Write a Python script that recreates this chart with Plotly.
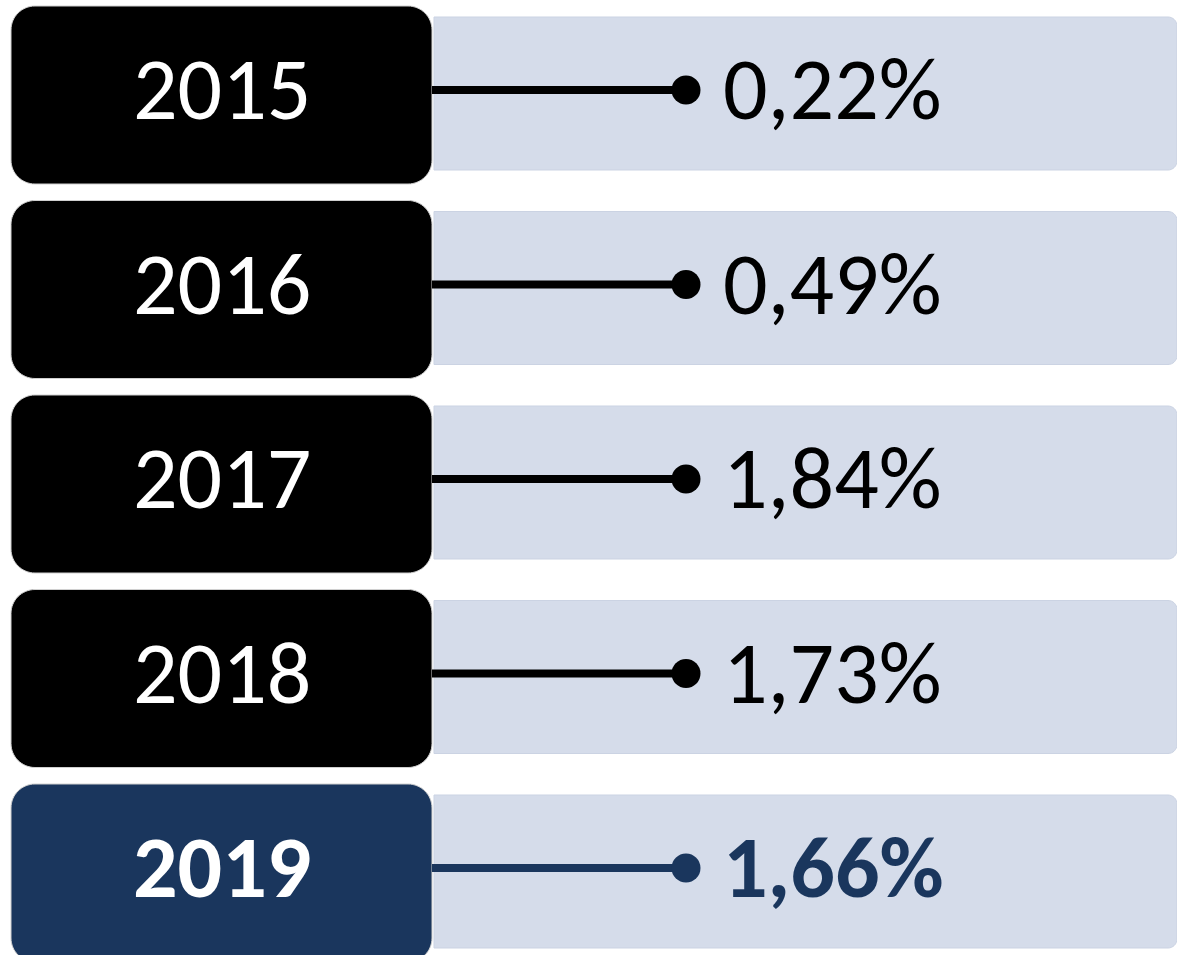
import plotly.graph_objects as go

# ---- data ----
years = ["2015", "2016", "2017", "2018", "2019"]
values = [0.22, 0.49, 1.84, 1.73, 1.66]
highlight = [False, False, False, False, True]

# ---- style ----
W, H = 1177, 955
P = 194.5          # row pitch in px
TOP = 90           # first row centre in px
BLACK = "#000000"
NAVY = "#1A365D"
BAND = "#D5DCEA"
FONT = "Carlito, Calibri, Lato, sans-serif"

def fmt(v):
    return f"{v:.2f}".replace(".", ",") + "%"

def rrect(x0, x1, y0, y1, r, rl=None):
    """rounded rectangle path; x in px units, y in row units, r in px (right), rl (left)"""
    if rl is None:
        rl = r
    k = 0.5523
    ry = r / P
    ryl = rl / P
    return (f"M {x0+rl},{y0} L {x1-r},{y0} "
            f"C {x1-r+k*r},{y0} {x1},{y0+ry-k*ry} {x1},{y0+ry} "
            f"L {x1},{y1-ry} "
            f"C {x1},{y1-ry+k*ry} {x1-r+k*r},{y1} {x1-r},{y1} "
            f"L {x0+rl},{y1} "
            f"C {x0+rl-k*rl},{y1} {x0},{y1-ryl+k*ryl} {x0},{y1-ryl} "
            f"L {x0},{y0+ryl} "
            f"C {x0},{y0+ryl-k*ryl} {x0+rl-k*rl},{y0} {x0+rl},{y0} Z")

fig = go.Figure()
shapes = []
annotations = []

for i, (yr, v, hl) in enumerate(zip(years, values, highlight)):
    col = NAVY if hl else BLACK
    # background band
    shapes.append(dict(type="path", path=rrect(434, 1177, i - 73 / P, i + 80 / P, 9, 0),
                       fillcolor=BAND, line=dict(color="#CBD3E3", width=1), layer="below"))
    # year box
    shapes.append(dict(type="path", path=rrect(11, 432, i - 84 / P, i + 94 / P, 24),
                       fillcolor=col, line=dict(color="#D0D0D0", width=1), layer="below"))
    # connector
    fig.add_trace(go.Scatter(x=[432, 686], y=[i, i], mode="lines",
                             line=dict(color=col, width=8),
                             hoverinfo="skip", showlegend=False))
    # dot
    fig.add_trace(go.Scatter(x=[686], y=[i], mode="markers",
                             marker=dict(size=29, color=col, opacity=1,
                                         line=dict(width=0)),
                             hoverinfo="skip", showlegend=False))
    annotations.append(dict(x=221.5, y=i - 1 / P, text=f"<b>{yr}</b>" if hl else yr,
                            showarrow=False, xanchor="center", yanchor="middle",
                            font=dict(family=FONT, size=88, color="white")))
    annotations.append(dict(x=721, y=i - 1 / P, text=f"<b>{fmt(v)}</b>" if hl else fmt(v),
                            showarrow=False, xanchor="left", yanchor="middle",
                            font=dict(family=FONT, size=88, color=col)))

fig.update_layout(
    width=W, height=H,
    margin=dict(l=0, r=0, t=0, b=0),
    paper_bgcolor="white", plot_bgcolor="white",
    shapes=shapes, annotations=annotations,
    xaxis=dict(range=[0, W], visible=False, fixedrange=True),
    yaxis=dict(range=[(H - TOP) / P, -TOP / P], visible=False, fixedrange=True),
)

fig.write_html("out.html",
               config={"displayModeBar": False},
               post_script="document.body.style.margin='0';"
                           "document.body.style.overflow='hidden';")
